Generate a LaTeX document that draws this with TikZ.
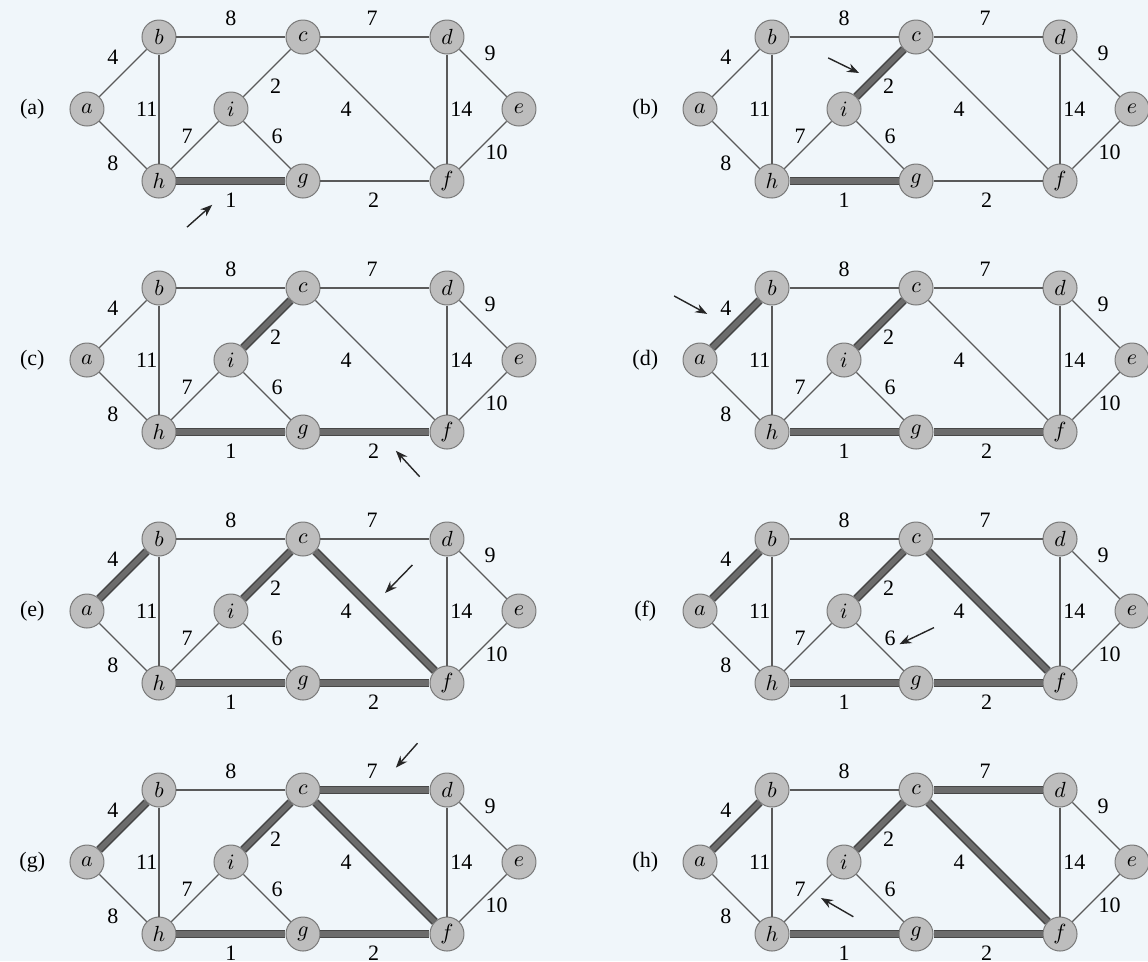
\documentclass[tikz,border=0pt]{standalone}
\usepackage{fontspec}
\setmainfont{Liberation Serif}
\usepackage{xcolor}
\usepackage{tikz}
\usetikzlibrary{arrows.meta}
\definecolor{paper}{HTML}{F0F6FA}
\definecolor{vfill}{HTML}{BDBDBD}
\definecolor{vdraw}{HTML}{7A7A7A}
\definecolor{edraw}{HTML}{5A5A5A}
\definecolor{mstdraw}{HTML}{474747}
\definecolor{mstfill}{HTML}{6C6C6C}
\tikzset{
  vtx/.style={circle, draw=vdraw, fill=vfill, line width=0.5pt, minimum size=17pt, inner sep=0pt, font=\fontsize{11}{13}\selectfont},
  wt/.style={font=\fontsize{11}{13}\selectfont, inner sep=1pt},
  lbl/.style={font=\fontsize{11}{13}\selectfont},
  edge/.style={draw=edraw, line width=0.6pt},
  mst/.style={draw=mstdraw, line width=0.8pt, double=mstfill, double distance=2.6pt},
  ptr/.style={-{Stealth[length=6pt, width=4.5pt]}, line width=0.7pt, draw=black!85},
}
% one stage: id, shift, letter, tree edges, arrow tail, arrow tip
\newcommand{\kpanel}[6]{%
  \begin{scope}[shift={#2}]
    \node[lbl] (#1lab) at (-0.76,0) {(#3)};
    \foreach \n/\x/\y in {a/0/0, b/1/1, c/3/1, d/5/1, e/6/0, f/5/-1, g/3/-1, h/1/-1, i/2/0}
      \node[vtx] (#1\n) at (\x,\y) {$\n$};
    \foreach \u/\v/\w/\lx/\ly in {a/b/4/0.36/0.72, a/h/8/0.36/-0.75, b/h/11/0.83/0,
        b/c/8/2/1.26, h/i/7/1.39/-0.38, i/g/6/2.64/-0.38, i/c/2/2.62/0.31,
        h/g/1/2/-1.27, c/d/7/3.96/1.26, c/f/4/3.6/0, d/f/14/5.2/0,
        d/e/9/5.6/0.78, f/e/10/5.69/-0.6, g/f/2/3.98/-1.26}{
      \draw[edge] (#1\u) -- (#1\v);
      \node[wt] (#1w\u\v) at (\lx,\ly) {\w};
    }
    \foreach \u/\v in {#4}
      \draw[mst] (#1\u) -- (#1\v);
    \coordinate (#1s) at (#5);
    \coordinate (#1t) at (#6);
    \draw[ptr] (#1s) -- (#1t);
  \end{scope}}

\begin{document}
\begin{tikzpicture}[x=36pt, y=36pt]
  \fill[paper] (0,0) rectangle (15.944,-13.347);
  \useasboundingbox (0,0) rectangle (15.944,-13.347);
  \kpanel{pa}{(1.208,-1.514)}{a}{h/g}{1.39,-1.64}{1.74,-1.33}
  \kpanel{pb}{(9.722,-1.514)}{b}{h/g, i/c}{1.78,0.71}{2.21,0.5}
  \kpanel{pc}{(1.208,-5.0)}{c}{h/g, i/c, g/f}{4.62,-1.62}{4.29,-1.26}
  \kpanel{pd}{(9.722,-5.0)}{d}{h/g, i/c, g/f, a/b}{-0.36,0.89}{0.1,0.64}
  \kpanel{pe}{(1.208,-8.486)}{e}{h/g, i/c, g/f, a/b, c/f}{4.52,0.64}{4.14,0.25}
  \kpanel{pf}{(9.722,-8.486)}{f}{h/g, i/c, g/f, a/b, c/f}{3.25,-0.23}{2.77,-0.46}
  \kpanel{pg}{(1.208,-11.972)}{g}{h/g, i/c, g/f, a/b, c/f, c/d}{4.59,1.65}{4.29,1.31}
  \kpanel{ph}{(9.722,-11.972)}{h}{h/g, i/c, g/f, a/b, c/f, c/d}{2.13,-0.76}{1.68,-0.5}
\end{tikzpicture}
\end{document}
